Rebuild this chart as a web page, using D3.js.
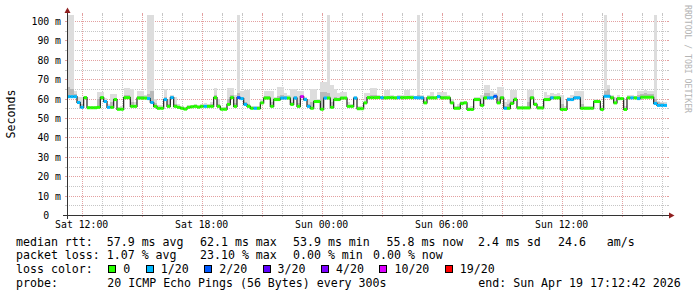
<!DOCTYPE html>
<html><head><meta charset="utf-8">
<script src="https://cdn.jsdelivr.net/npm/d3@7"></script>
<style>
html,body{margin:0;padding:0;background:#fff;}
svg text{font-family:"DejaVu Sans Mono",monospace;white-space:pre;}
</style></head>
<body><svg id="c" width="697" height="297"></svg>
<script>
// ---------- data ----------
const startTime = Date.UTC(2026, 3, 18, 11, 16);   // left edge of graph
const endTime   = Date.UTC(2026, 3, 19, 17, 16);   // right edge of graph
const stepMinutes = 10;

const median = [
61,61,61,58,55.5,60.5,55.3,55.3,55.3,55.5,
60.5,58.5,55.5,55.5,59.5,54.5,54.5,60.5,60.5,56,
56,60.3,60.3,60.3,60,58,56,55,55,59.5,
56,60.5,56,55.5,55,54.6,55.5,55.8,56,55.6,
56,56,56,56,60.5,56,54.5,54.5,57,60.5,
56,60.5,60,57,56,55,55,55,57.8,60.3,
60.3,56,59.5,59.5,60.3,60.3,60.3,57,60.3,56,
61,59.5,56,55,58.5,58.5,54.5,60.3,60.3,55.5,
59.5,59.5,60.3,60.3,56,56,60.3,54.8,54.8,57.8,
60.5,60.5,60.5,60.6,60.5,60.4,60.5,60.5,60.4,60.5,
60.5,60.5,60.6,60.5,60.5,60.4,60.4,57.8,60.4,60.4,
60.4,61,60.4,60.4,60.4,57.8,55,55,57.5,57.8,
54.4,54.4,59.5,59.5,56.5,60.4,60.4,60.4,61.2,57.8,
60.4,55,55,57.5,59.5,55.2,55.2,55.2,55.2,60.4,
57,55.2,55.2,59.5,59.5,60.4,60.4,60.4,54.4,54.4,
59.5,59.5,60.4,60.4,55,55,55,55,58.5,58.5,
54.4,61.2,61.2,60.4,57.8,60,60,54.4,60.4,60.4,
60.4,60,60.7,60.7,60.7,60.7,57.5,56.5,56.5,56.5
];

// lost pings out of 20 for each step
const loss = [
1,1,1,1,1,0,0,0,0,0,
0,1,1,0,0,0,0,0,0,0,
0,0,0,0,1,1,0,0,0,1,
0,1,0,0,0,0,0,0,0,0,
0,1,0,0,0,0,0,0,0,0,
0,2,1,1,0,0,1,0,0,0,
0,0,0,0,1,1,0,0,1,0,
10,1,1,0,0,0,0,1,0,0,
0,0,0,0,0,0,1,0,0,0,
0,0,0,0,1,0,0,0,0,1,
0,0,0,0,1,1,1,0,0,0,
0,1,0,0,0,0,0,0,0,0,
0,0,0,0,0,0,1,1,2,0,
0,1,0,0,0,0,0,0,0,0,
0,0,0,0,0,1,0,0,0,0,
1,1,1,1,0,0,0,0,0,0,
0,1,1,0,0,0,0,0,0,1,
0,1,0,0,0,0,1,1,1,1
];

// top of the light smoke (slowest ping) per step
const smokeMax = [
103.1,103.1,64,61,61,61.5,56,56,56,63.6,
63.6,60.5,57,62.5,62.5,55.5,56,65.6,65.6,65,
58,64,64,62,103.1,103.1,60,56.5,56.5,65,
60,62,61,57,56,55.5,56.5,56.5,57,56.5,
57,57.5,57,58,65.7,60,55.5,55.5,65.7,65.7,
62,103.1,64,64.6,64.6,56,56,56,60,64,
64,64,61,66,66,63,62,65,65,64,
64,61,60,65,65,60,68.8,68.8,103.1,67,
65,63,63.5,63.5,58,57,61.5,56,56,63,
63,65.6,65.6,62,61.5,64.6,64.6,62,61.5,62,
62,64.6,64.6,62,61.5,103.1,62,61,62,63.6,
61.5,63.6,63.6,63.6,62,60,56,57,59,59,
55.5,56,61,61,62,67.2,67.2,64,63,66,
66,58,60,64.6,64.6,56,56,56,64.6,64.6,
58,56,56,63.6,62,63,62.5,63,62,56,
61,62,64,64,64,56,56,56,60,59.5,
56,103.1,67,62,61,62,61,56,62,62,
61.5,64,64,64.5,64,64,103.1,59,58.5,58
];

// top of the darker inner smoke per step
const smokeMid = [
66,65,62.5,59,57,61,55.6,55.6,55.6,60,
61.5,59.5,56,58,60.5,55,55,62,62,58,
56.5,61.5,61.5,61,62.5,64,57.5,55.5,55.5,61,
57,61.2,57,56,55.5,55,56,56.3,56.5,56,
56.5,56.5,56.5,57,62,57,55,55,60,62,
57.5,63,61,58,57,55.5,55.5,55.5,58.5,61.5,
61.5,58,60.5,61.5,62,61.5,61,58,61.5,57.5,
62,60.5,57,58,59.5,59,63.5,63.5,63,58,
61,60.5,61,61,56.5,56.5,61,55.3,55.3,58.5,
61.5,62,62,61.2,61,61.5,61.5,61,61,61.2,
61.2,61.5,61.5,61,61,62,61.2,58.5,61,61.5,
61,62,61.5,61.5,61,58.5,55.5,56,58,58.5,
55,55,60.5,60.5,57.5,63,63,61.5,62,60,
61.5,56,57,59,61,55.7,55.7,55.7,58,61.5,
57.5,55.7,55.7,60.5,60.5,61.2,61,61.2,57,55,
60.3,60.5,61.5,61.5,57,55.5,55.5,55.5,59,59,
55,64,65,61.5,58.5,61,60.5,55,61,61,
61,62,62.5,63,62.5,62.5,60,58,57.5,57.2
];

const lossThresholds = [0, 1, 2, 3, 4, 10, 19];
const lossLabels = ["0", "1/20", "2/20", "3/20", "4/20", "10/20", "19/20"];
const lossColors = ["#26ff00", "#00b8ff", "#0059ff", "#5e00ff", "#7e00ff", "#dd00ff", "#ff0000"];

const yTicks = [0, 10, 20, 30, 40, 50, 60, 70, 80, 90, 100];
const yMax = 103.1;

const statLine1 = ["median rtt:  57.9 ms avg", "62.1 ms max", "53.9 ms min", "55.8 ms now", "2.4 ms sd", "24.6   am/s"];
const statLine2 = ["packet loss: 1.07 % avg", "23.10 % max", "0.00 % min", "0.00 % now"];
const probeLine = ["probe:", "20 ICMP Echo Pings (56 Bytes) every 300s", "end: Sun Apr 19 17:12:42 2026"];

// ---------- drawing ----------
const svg = d3.select("#c");
const X0 = 67, X1 = 667, Y0 = 215, Y1 = 15;
const x = d3.scaleUtc().domain([new Date(startTime), new Date(endTime)]).range([X0, X1]);
const y = d3.scaleLinear().domain([0, yMax]).range([Y0, Y1]);
const tAt = i => new Date(startTime + i * stepMinutes * 60000);
const GRID = "#c6c6c6", MGRID = "#e3a0a0";
const px = v => Math.round(v) + 0.5;

// horizontal grid
const minorY = d3.range(5, yMax, 5).filter(v => v % 10 !== 0);
const gH = svg.append("g");
minorY.forEach(v => {
  const yy = px(y(v));
  gH.append("line").attr("x1", X0).attr("x2", X1).attr("y1", yy).attr("y2", yy)
    .attr("stroke", GRID).attr("stroke-dasharray", "1,1");
  [[X0-2, X0], [X1, X1+2]].forEach(s => gH.append("line").attr("x1", s[0]).attr("x2", s[1]).attr("y1", yy).attr("y2", yy).attr("stroke", GRID));
});
yTicks.filter(v => v > 0).forEach(v => {
  const yy = px(y(v));
  gH.append("line").attr("x1", X0).attr("x2", X1).attr("y1", yy).attr("y2", yy)
    .attr("stroke", MGRID).attr("stroke-dasharray", "1,1");
  [[X0-2, X0], [X1, X1+2]].forEach(s => gH.append("line").attr("x1", s[0]).attr("x2", s[1]).attr("y1", yy).attr("y2", yy).attr("stroke", MGRID));
});
// vertical grid
const hours = d3.utcHour.every(1).range(new Date(startTime), new Date(endTime));
hours.forEach(h => {
  const major = h.getUTCHours() % 3 === 0;
  const c = major ? MGRID : GRID;
  const xx = px(x(h));
  gH.append("line").attr("x1", xx).attr("x2", xx).attr("y1", Y1).attr("y2", Y0)
    .attr("stroke", c).attr("stroke-dasharray", "1,1");
  [[Y1-2, Y1], [Y0, Y0+2]].forEach(s => gH.append("line").attr("x1", xx).attr("x2", xx).attr("y1", s[0]).attr("y2", s[1]).attr("stroke", c));
});

// smoke
const gS = svg.append("g");
median.forEach((m, i) => {
  const xa = x(tAt(i)), xb = x(tAt(i + 1));
  gS.append("rect").attr("x", xa).attr("width", xb - xa)
    .attr("y", y(smokeMax[i])).attr("height", Math.max(0, y(m) - y(smokeMax[i])))
    .attr("fill", "#dddddd").attr("shape-rendering", "crispEdges");
  gS.append("rect").attr("x", xa).attr("width", xb - xa)
    .attr("y", y(smokeMid[i])).attr("height", Math.max(0, y(m) - y(smokeMid[i])))
    .attr("fill", "#b9b9b9").attr("shape-rendering", "crispEdges");
});

// median black line (step)
const pts = median.map((m, i) => [tAt(i), m]);
pts.push([tAt(median.length), median[median.length - 1]]);
svg.append("path").datum(pts)
  .attr("d", d3.line().x(d => x(d[0])).y(d => y(d[1])).curve(d3.curveStepAfter))
  .attr("fill", "none").attr("stroke", "#202020").attr("stroke-width", 1.2);

// loss-coloured median bands
const colorFor = l => {
  let k = 0;
  lossThresholds.forEach((t, j) => { if (l >= t) k = j; });
  return lossColors[k];
};
median.forEach((m, i) => {
  const xa = x(tAt(i)), xb = x(tAt(i + 1));
  svg.append("rect").attr("x", xa).attr("width", xb - xa)
    .attr("y", y(m) - 1.5).attr("height", 3)
    .attr("fill", colorFor(loss[i]));
});

// axes
const AX = "#333";
svg.append("line").attr("x1", X0 - 4).attr("x2", X1 + 4).attr("y1", Y0 + 0.5).attr("y2", Y0 + 0.5).attr("stroke", AX);
svg.append("line").attr("x1", X0 + 0.5).attr("x2", X0 + 0.5).attr("y1", Y0 + 4).attr("y2", Y1 - 4).attr("stroke", AX);
svg.append("path").attr("d", `M${X1+2},${Y0-2.5}L${X1+2},${Y0+3.5}L${X1+7.5},${Y0+0.5}Z`).attr("fill", "#8f1f1f");
svg.append("path").attr("d", `M${X0-2.5},${Y1-2}L${X0+3.5},${Y1-2}L${X0+0.5},${Y1-7.5}Z`).attr("fill", "#8f1f1f");

// y tick labels
svg.append("g").selectAll("text").data(yTicks).join("text")
  .attr("x", 61).attr("y", d => y(d) + 4).attr("text-anchor", "end")
  .attr("font-size", 9.8).attr("fill", "#000")
  .text(d => d === 0 ? "0\u00a0\u00a0" : d + " m");

// x tick labels
const xt = d3.utcHour.every(6).range(new Date(startTime), new Date(endTime));
svg.append("g").selectAll("text").data(xt).join("text")
  .attr("x", d => x(d)).attr("y", 228).attr("text-anchor", "middle")
  .attr("font-size", 9.8).attr("fill", "#000")
  .text(d => d3.utcFormat("%a %H:%M")(d));

// axis title
svg.append("text").attr("transform", "translate(15,114) rotate(-90)")
  .attr("text-anchor", "middle").attr("font-size", 11.6).attr("fill", "#000").text("Seconds");
// watermark
svg.append("text").attr("transform", "translate(685,5) rotate(90)")
  .attr("font-size", 8.2).attr("fill", "#b4b4b4").attr("textLength", 108)
  .text("RRDTOOL / TOBI OETIKER");

// legend
const LF = 11.6;
const line1X = [16, 200, 293, 386.5, 478, 558];
statLine1.forEach((s, i) => svg.append("text").attr("x", line1X[i]).attr("y", 245.5).attr("font-size", LF).text(s));
const line2X = [16, 200, 293, 373];
statLine2.forEach((s, i) => svg.append("text").attr("x", line2X[i]).attr("y", 259.4).attr("font-size", LF).text(s));
const probeX = [16, 107.3, 478.3];
probeLine.forEach((s, i) => svg.append("text").attr("x", probeX[i]).attr("y", 287.2).attr("font-size", LF).text(s));

let lx = 16;
const lc = svg.append("text").attr("x", lx).attr("y", 273.3).attr("font-size", LF).text("loss color:");
lx += lc.node().getComputedTextLength() + 15.5;
lossLabels.forEach((lab, i) => {
  svg.append("rect").attr("x", Math.round(lx) + 0.5).attr("y", 265.5).attr("width", 7).attr("height", 7)
    .attr("fill", lossColors[i]).attr("stroke", "#000");
  const t = svg.append("text").attr("x", lx + 15).attr("y", 273.3).attr("font-size", LF).text(lab);
  lx += 15 + t.node().getComputedTextLength() + 15.5;
});
</script></body></html>
